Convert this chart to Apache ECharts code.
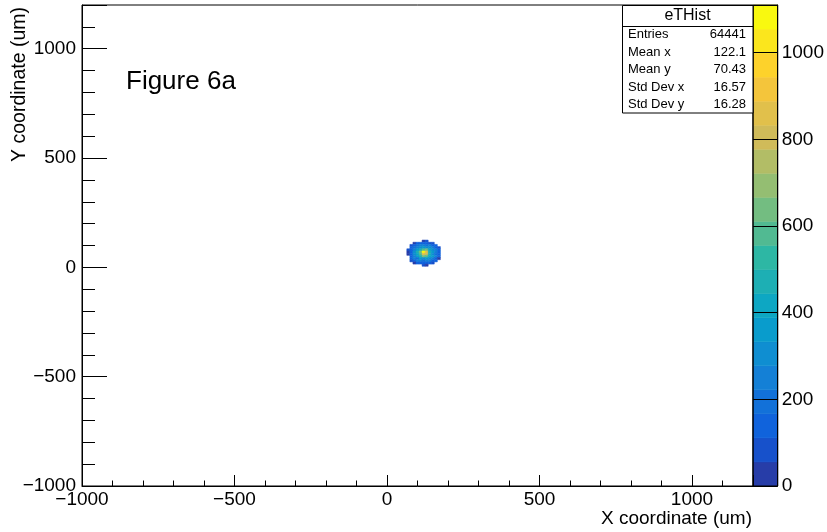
<!DOCTYPE html>
<html>
<head>
<meta charset="utf-8">
<script src="https://cdn.jsdelivr.net/npm/echarts@6/dist/echarts.min.js"></script>
<style>
  html, body { margin: 0; padding: 0; background: #fff; }
  #chart { width: 827px; height: 532px; }
</style>
</head>
<body>
<div id="chart"></div>
<script>
// eTHist: 2D hit map, bin centres (um) and bin contents
const binX = [70, 80, 90, 100, 110, 120, 130, 140, 150, 160, 170];
const binY = [120, 110, 100, 90, 80, 70, 60, 50, 40, 30, 20, 10];
const binWidth = 10;
const counts = [
  [0,   0,   0,   0,   0,   52,   67,  0,   0,   0,   0],
  [0,   0,   48,  118, 141, 126,  152, 109, 61,  0,   0],
  [0,   57,  124, 209, 246, 238,  221, 252, 143, 117, 0],
  [0,   136, 214, 262, 318, 347,  329, 306, 228, 139, 58],
  [63,  127, 241, 341, 463, 598,  637, 442, 318, 224, 121],
  [55,  148, 322, 447, 641, 1108, 836, 468, 337, 236, 138],
  [49,  119, 316, 432, 607, 842,  794, 455, 326, 219, 126],
  [0,   133, 227, 338, 452, 612,  589, 437, 341, 241, 113],
  [0,   121, 232, 219, 335, 322,  347, 314, 226, 131, 54],
  [0,   61,  138, 226, 238, 219,  243, 231, 129, 124, 0],
  [0,   0,   52,  128, 137, 119,  142, 125, 58,  0,   0],
  [0,   0,   0,   0,   0,   57,   49,  0,   0,   0,   0]
];

// Colour scale range and number of contour levels
const zMax = 1110;
const nContours = 20;

// Statistics box
const statsTitle = 'eTHist';
const statsNames = ['Entries', 'Mean x', 'Mean y', 'Std Dev x', 'Std Dev y'];
const statsValues = ['64441', '122.1', '70.43', '16.57', '16.28'];

// Axis ranges
const xRange = [-1000, 1200];
const yRange = [-1000, 1200];

// Bird palette stops
const birdStops = [0.0, 0.125, 0.25, 0.375, 0.5, 0.625, 0.75, 0.875, 1.0];
const birdR = [0.2082, 0.0592, 0.0780, 0.0232, 0.1802, 0.5301, 0.8186, 0.9956, 0.9764];
const birdG = [0.1664, 0.3599, 0.5041, 0.6419, 0.7178, 0.7492, 0.7328, 0.7862, 0.9832];
const birdB = [0.5293, 0.8684, 0.8385, 0.7914, 0.6425, 0.4662, 0.3499, 0.1968, 0.0539];

function birdColor(t) {
  let g = 1;
  while (g < birdStops.length - 1 && t > birdStops[g]) g++;
  const f = (t - birdStops[g - 1]) / (birdStops[g] - birdStops[g - 1]);
  const c = (a) => Math.round(255 * (a[g - 1] + f * (a[g] - a[g - 1])));
  return 'rgb(' + c(birdR) + ',' + c(birdG) + ',' + c(birdB) + ')';
}

const bandColors = [];
for (let i = 0; i < nContours; i++) {
  const k = Math.floor((i + 0.99) * 255 / nContours);
  bandColors.push(birdColor(k / 255));
}
const bandStep = zMax / nContours;
const bands = bandColors.map((c, i) => [i * bandStep, (i + 1) * bandStep]);

const cells = [];
counts.forEach((row, r) => row.forEach((v, c) => {
  if (v > 0) cells.push([binX[c], binY[r], v]);
}));

const FONT = '"Liberation Sans", Arial, Helvetica, sans-serif';
const fmt = (v) => (v > 1000 ? '' : (v < 0 ? '\u2212' + Math.abs(v) : String(v)));

const chart = echarts.init(document.getElementById('chart'), null, { renderer: 'canvas' });

chart.setOption({
  animation: false,
  backgroundColor: '#fff',
  grid: [
    { left: 82, right: 74, top: 5, bottom: 46, show: true, borderColor: '#000', borderWidth: 1, backgroundColor: 'transparent' },
    { left: 753, right: 48, top: 5, bottom: 46, show: true, borderColor: '#000', borderWidth: 1, backgroundColor: 'transparent' }
  ],
  xAxis: [
    {
      type: 'value', gridIndex: 0, position: 'bottom', min: xRange[0], max: xRange[1], interval: 500,
      axisLine: { show: true, onZero: false, lineStyle: { color: '#000', width: 1 } },
      axisTick: { show: true, inside: true, length: 11, lineStyle: { color: '#000' } },
      axisLabel: { show: true, margin: 4, color: '#000', fontSize: 19, fontFamily: FONT, formatter: fmt },
      splitLine: { show: false }
    },
    {
      type: 'value', gridIndex: 0, position: 'bottom', min: xRange[0], max: xRange[1], interval: 100,
      axisLine: { show: false, onZero: false },
      axisTick: { show: true, inside: true, length: 5.5, lineStyle: { color: '#000' } },
      axisLabel: { show: false },
      splitLine: { show: false }
    },
    { type: 'value', gridIndex: 1, min: 0, max: 1, show: false }
  ],
  yAxis: [
    {
      type: 'value', gridIndex: 0, position: 'left', min: yRange[0], max: yRange[1], interval: 500,
      axisLine: { show: true, onZero: false, lineStyle: { color: '#000', width: 1 } },
      axisTick: { show: true, inside: true, length: 25, lineStyle: { color: '#000' } },
      axisLabel: { show: true, margin: 6, color: '#000', fontSize: 19, fontFamily: FONT, formatter: fmt },
      splitLine: { show: false }
    },
    {
      type: 'value', gridIndex: 0, position: 'left', min: yRange[0], max: yRange[1], interval: 100,
      axisLine: { show: false, onZero: false },
      axisTick: { show: true, inside: true, length: 13, lineStyle: { color: '#000' } },
      axisLabel: { show: false },
      splitLine: { show: false }
    },
    {
      type: 'value', gridIndex: 1, position: 'right', min: 0, max: zMax, interval: 200, z: 10,
      axisLine: { show: true, onZero: false, lineStyle: { color: '#000', width: 1 } },
      axisTick: { show: false },
      axisLabel: { show: true, margin: 4, color: '#000', fontSize: 19, fontFamily: FONT,
        formatter: (v) => (v % 200 === 0 ? String(v) : '') },
      splitLine: { show: true, lineStyle: { color: '#000', width: 1 } }
    }
  ],
  visualMap: {
    type: 'piecewise', show: false, seriesIndex: 0, dimension: 2,
    pieces: bands.map((b, i) => (i === nContours - 1
      ? { gte: b[0], lte: zMax + 1e-6, color: bandColors[i] }
      : { gte: b[0], lt: b[1], color: bandColors[i] }))
  },
  series: [
    {
      type: 'custom', xAxisIndex: 0, yAxisIndex: 0, z: 2,
      encode: { x: 0, y: 1 },
      data: cells,
      renderItem: (params, api) => {
        const x = api.value(0), y = api.value(1);
        const p0 = api.coord([x - binWidth / 2, y + binWidth / 2]);
        const p1 = api.coord([x + binWidth / 2, y - binWidth / 2]);
        const col = api.visual('color');
        return {
          type: 'rect',
          shape: { x: p0[0], y: p0[1], width: p1[0] - p0[0], height: p1[1] - p0[1] },
          style: { fill: col, stroke: col, lineWidth: 0.5 }
        };
      }
    },
    {
      type: 'custom', xAxisIndex: 2, yAxisIndex: 2, z: -1,
      data: bands,
      encode: { y: [0, 1] },
      renderItem: (params, api) => {
        const p0 = api.coord([0, api.value(1)]);
        const p1 = api.coord([1, api.value(0)]);
        const col = bandColors[params.dataIndex];
        return {
          type: 'rect',
          shape: { x: p0[0], y: p0[1], width: p1[0] - p0[0], height: p1[1] - p0[1] },
          style: { fill: col, stroke: col, lineWidth: 0.5 }
        };
      }
    }
  ],
  graphic: [
    {
      type: 'text', x: 126, y: 82, z: 20,
      style: { text: 'Figure 6a', font: '26px ' + FONT, fill: '#000', align: 'left', verticalAlign: 'middle' }
    },
    {
      type: 'text', x: 752, y: 519, z: 20,
      style: { text: 'X coordinate (um)', font: '19px ' + FONT, fill: '#000', align: 'right', verticalAlign: 'middle' }
    },
    {
      type: 'text', x: 20, y: 7, rotation: Math.PI / 2, z: 20,
      style: { text: 'Y coordinate (um)', font: '19.5px ' + FONT, fill: '#000', align: 'right', verticalAlign: 'middle' }
    },
    {
      type: 'group', z: 30,
      children: [
        { type: 'rect', shape: { x: 622.5, y: 5.5, width: 130.5, height: 107.5 },
          style: { fill: '#fff', stroke: '#000', lineWidth: 1 } },
        { type: 'line', shape: { x1: 622.5, y1: 26.5, x2: 753, y2: 26.5 },
          style: { stroke: '#000', lineWidth: 1 } },
        { type: 'text', x: 687.5, y: 16,
          style: { text: statsTitle, font: '16px ' + FONT, fill: '#000', align: 'center', verticalAlign: 'middle' } }
      ].concat(statsNames.map((n, i) => ({
        type: 'text', x: 628, y: 34.5 + i * 17.6,
        style: { text: n, font: '13px ' + FONT, fill: '#000', align: 'left', verticalAlign: 'middle' }
      }))).concat(statsValues.map((v, i) => ({
        type: 'text', x: 746, y: 34.5 + i * 17.6,
        style: { text: v, font: '13px ' + FONT, fill: '#000', align: 'right', verticalAlign: 'middle' }
      })))
    }
  ]
});
</script>
</body>
</html>
